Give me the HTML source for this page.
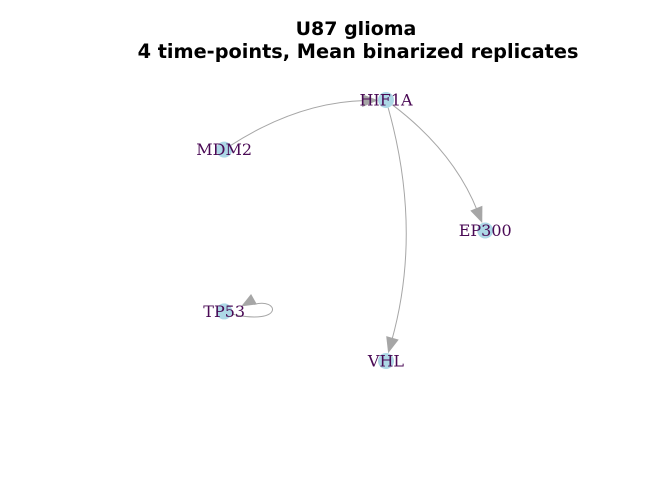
<!DOCTYPE html>
<html><head><meta charset="utf-8"><style>
body{margin:0;background:#fff;}
svg{display:block;}
</style></head><body>
<svg id="chart" width="672" height="480" viewBox="0 0 672 480" xmlns="http://www.w3.org/2000/svg">
<text x="356" y="35" text-anchor="middle" font-family="DejaVu Sans, sans-serif" font-weight="bold" font-size="19">U87 glioma</text>
<text x="358" y="58" text-anchor="middle" font-family="DejaVu Sans, sans-serif" font-weight="bold" font-size="19.3">4 time-points, Mean binarized replicates</text>
<g id="edges"></g><g id="nodes"></g>
</svg>
<script>
const nodeNames = ["HIF1A","MDM2","EP300","TP53","VHL"];
const nodeX = [0.0, -0.62, 0.38, -0.62, 0.0];
const nodeY = [1.0, 0.81, 0.50, 0.19, 0.0];
const edgeFrom = ["MDM2","HIF1A","HIF1A","TP53"];
const edgeTo = ["HIF1A","EP300","VHL","TP53"];
const NS="http://www.w3.org/2000/svg";
function sx(v){return 386+v*261;}
function sy(v){return 361-v*261;}
const eg=document.getElementById('edges'), ng=document.getElementById('nodes');
const R=8, AL=16, AW=6.5, CURV=0.14;
function arrow(tx,ty,ux,uy){
  const bx=tx-ux*AL, by=ty-uy*AL;
  const p=document.createElementNS(NS,'polygon');
  p.setAttribute('points',`${tx},${ty} ${bx-uy*AW},${by+ux*AW} ${bx+uy*AW},${by-ux*AW}`);
  p.setAttribute('fill','#a6a6a6');
  
  
  eg.appendChild(p);
}
function pos(n){const i=nodeNames.indexOf(n);return [sx(nodeX[i]),sy(nodeY[i])];}
for(let k=0;k<edgeFrom.length;k++){
  const [x1,y1]=pos(edgeFrom[k]),[x2,y2]=pos(edgeTo[k]);
  const path=document.createElementNS(NS,'path');
  
  
  path.setAttribute('fill','none');path.setAttribute('stroke','#a6a6a6');path.setAttribute('stroke-width','1');
  if(edgeFrom[k]===edgeTo[k]){
    path.setAttribute('d',`M${x1+9},${y1+3} C${x1+60},${y1+14} ${x1+55},${y1-14} ${x1+30},${y1-7}`);
    eg.appendChild(path);
    arrow(x1+17,y1-5,-0.8,0.45);
    continue;
  }
  const dx=x2-x1,dy=y2-y1;
  const cx=(x1+x2)/2+dy*CURV, cy=(y1+y2)/2-dx*CURV;
  let ux=x1+(cx-x1)/Math.hypot(cx-x1,cy-y1)*R, uy=y1+(cy-y1)/Math.hypot(cx-x1,cy-y1)*R;
  let ex=x2-cx, ey=y2-cy; const el=Math.hypot(ex,ey); ex/=el; ey/=el;
  const tx=x2-ex*R, ty=y2-ey*R;
  const sx2=tx-ex*AL*0.8, sy2=ty-ey*AL*0.8;
  path.setAttribute('d',`M${ux},${uy} Q${cx},${cy} ${sx2},${sy2}`);
  eg.appendChild(path);
  arrow(tx,ty,ex,ey);
}
for(let i=0;i<nodeNames.length;i++){
  const g=document.createElementNS(NS,'g');
  
  
  const c=document.createElementNS(NS,'circle');
  c.setAttribute('cx',sx(nodeX[i]));c.setAttribute('cy',sy(nodeY[i]));c.setAttribute('r',R);c.setAttribute('fill','#add8e6');
  
  
  const t=document.createElementNS(NS,'text');
  t.setAttribute('x',sx(nodeX[i]));t.setAttribute('y',sy(nodeY[i])+5.5);
  t.setAttribute('text-anchor','middle');t.setAttribute('font-family','DejaVu Serif, Liberation Serif, serif');
  t.setAttribute('font-size','16');t.setAttribute('fill','#4a0a55');
  
  
  t.textContent=nodeNames[i];
  g.appendChild(c);g.appendChild(t);ng.appendChild(g);
}
</script>
</body></html>
